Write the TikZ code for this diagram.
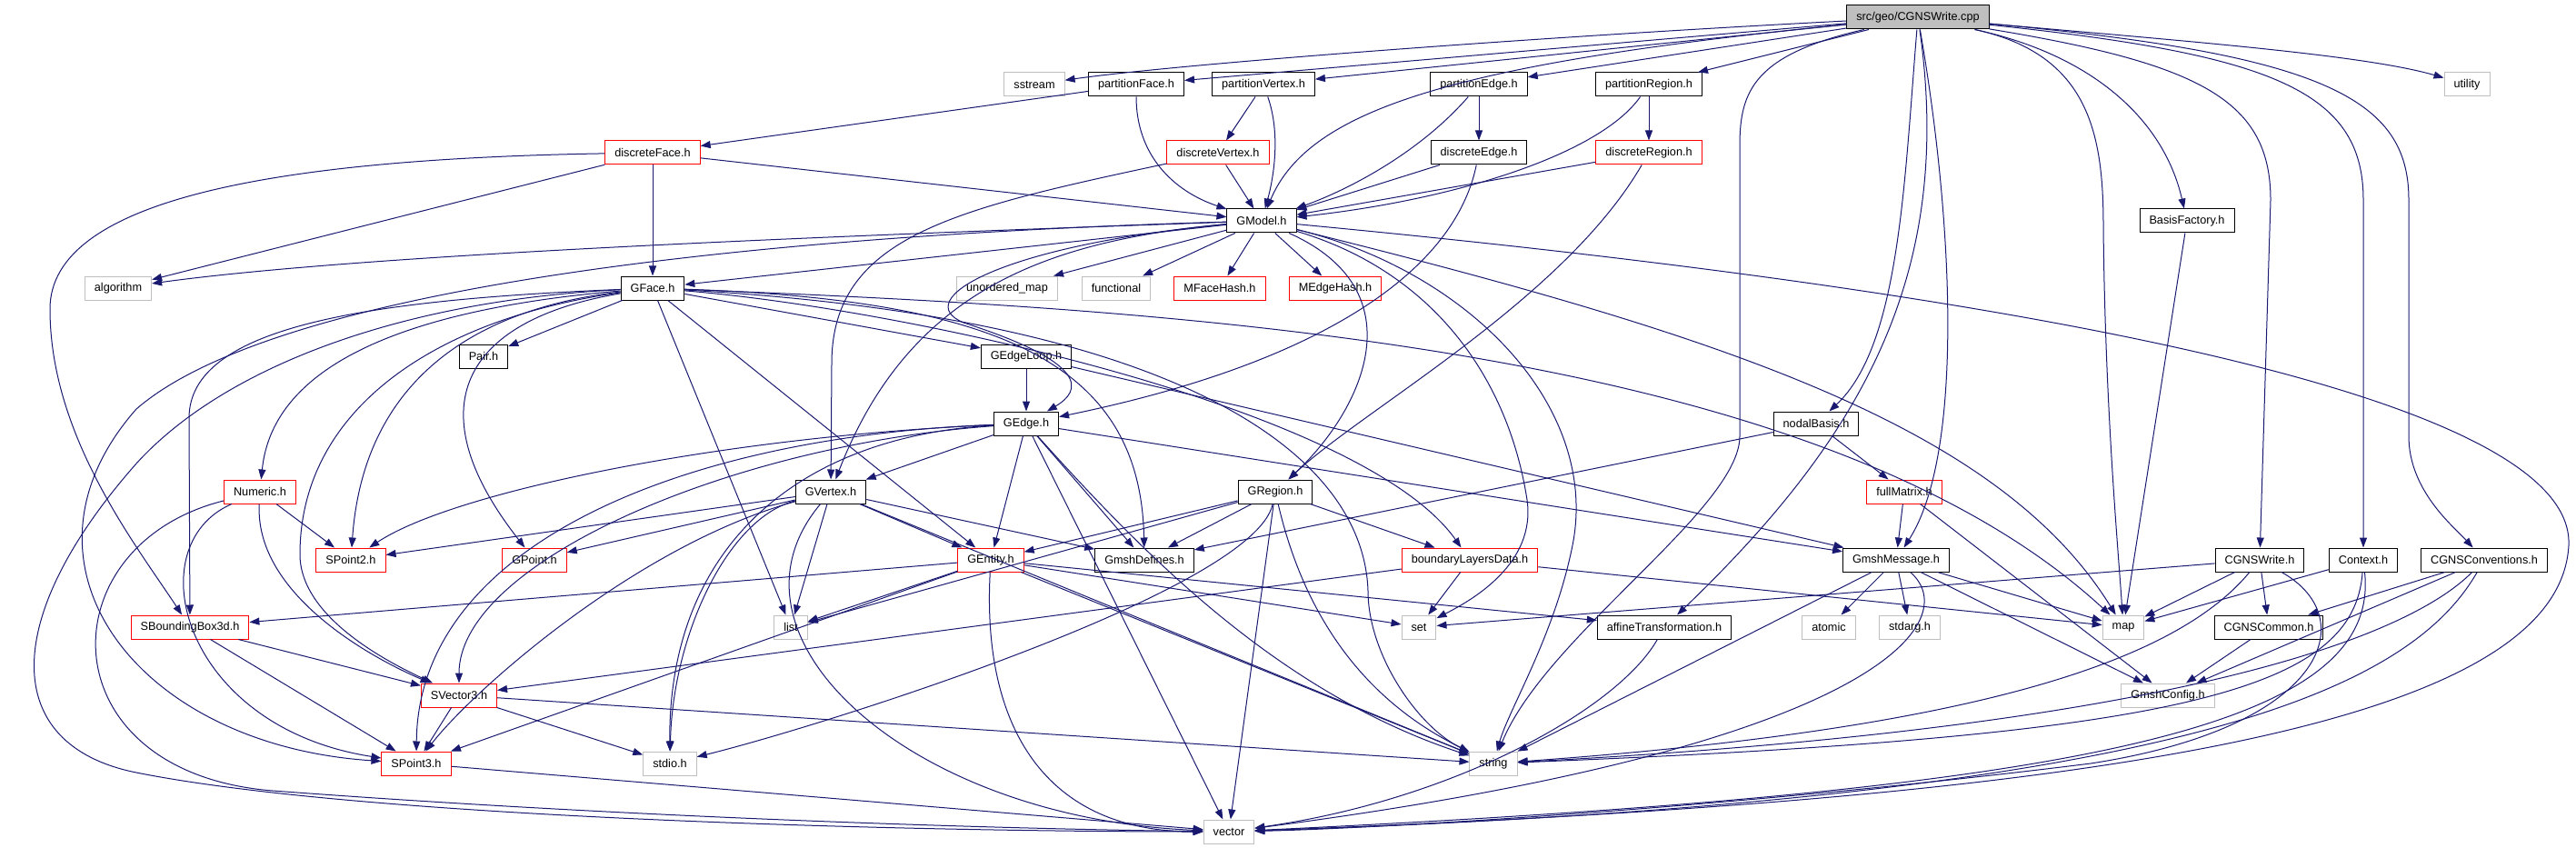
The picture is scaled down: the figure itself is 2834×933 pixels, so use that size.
\documentclass[tikz,border=0pt]{standalone}
\usepackage{fontspec}
\setmainfont{Liberation Sans}
\usepackage{xcolor}
\usepackage{tikz}
\usetikzlibrary{shapes, arrows.meta}
\definecolor{edgeblue}{HTML}{191970}
\definecolor{sysgrey}{HTML}{BFBFBF}
\newcommand{\filefont}{\fontsize{12.7}{15}\selectfont}
\tikzstyle{file} = [draw=black, rectangle, line width=1pt, minimum height=26pt, inner xsep=10.5pt, inner ysep=0pt, font=\filefont]
\tikzstyle{trunc} = [file, draw=red]
\tikzstyle{sys} = [file, draw=sysgrey]
\tikzstyle{root} = [file, fill=sysgrey]
\tikzstyle{dep} = [->, draw=edgeblue, line width=1pt]

\begin{document}
\begin{tikzpicture}[x=1pt, y=-1pt, >={Triangle[length=11pt,width=8pt]}]
    \useasboundingbox (0,0) rectangle (2834,933);

    % ligne 0-1
    \node [root] (root) at (2110,19) {src/geo/CGNSWrite.cpp};
    \node [sys] (sstream) at (1138,93) {sstream};
    \node [file] (pFace) at (1250,93) {partitionFace.h};
    \node [file] (pVertex) at (1390,93) {partitionVertex.h};
    \node [file] (pEdge) at (1627,93) {partitionEdge.h};
    \node [file] (pRegion) at (1814,93) {partitionRegion.h};
    \node [sys] (utility) at (2714,93) {utility};

    % ligne 2-3
    \node [trunc] (dFace) at (718,168) {discreteFace.h};
    \node [trunc] (dVertex) at (1340,168) {discreteVertex.h};
    \node [file] (dEdge) at (1627,168) {discreteEdge.h};
    \node [trunc] (dRegion) at (1814,168) {discreteRegion.h};
    \node [file] (GModel) at (1388,243) {GModel.h};
    \node [file] (BasisFactory) at (2406,243) {BasisFactory.h};

    % ligne 4-6
    \node [sys] (algorithm) at (130,317) {algorithm};
    \node [file] (GFace) at (718,317) {GFace.h};
    \node [sys] (umap) at (1108,317) {unordered\_map};
    \node [sys] (functional) at (1228,317) {functional};
    \node [trunc] (MFaceHash) at (1342,317) {MFaceHash.h};
    \node [trunc] (MEdgeHash) at (1469,317) {MEdgeHash.h};
    \node [file] (Pair) at (532,392) {Pair.h};
    \node [file] (GEdgeLoop) at (1129,392) {GEdgeLoop.h};
    \node [file] (GEdge) at (1129,466) {GEdge.h};
    \node [file] (nodalBasis) at (1998,466) {nodalBasis.h};

    % ligne 7-8
    \node [trunc] (Numeric) at (286,541) {Numeric.h};
    \node [file] (GVertex) at (914,541) {GVertex.h};
    \node [file] (GRegion) at (1403,541) {GRegion.h};
    \node [trunc] (fullMatrix) at (2095,541) {fullMatrix.h};
    \node [trunc] (SPoint2) at (386,616) {SPoint2.h};
    \node [trunc] (GPoint) at (588,616) {GPoint.h};
    \node [trunc] (GEntity) at (1090,616) {GEntity.h};
    \node [file] (GmshDefines) at (1259,616) {GmshDefines.h};
    \node [trunc] (bLayers) at (1617,616) {boundaryLayersData.h};
    \node [file] (GmshMessage) at (2086,616) {GmshMessage.h};
    \node [file] (CGNSWriteh) at (2486,616) {CGNSWrite.h};
    \node [file] (Context) at (2600,616) {Context.h};
    \node [file] (CGNSConv) at (2733,616) {CGNSConventions.h};

    % ligne 9-12
    \node [trunc] (SBBox) at (209,690) {SBoundingBox3d.h};
    \node [sys] (list) at (870,690) {list};
    \node [sys] (set) at (1561,690) {set};
    \node [file] (affine) at (1831,690) {affineTransformation.h};
    \node [sys] (atomic) at (2012,690) {atomic};
    \node [sys] (stdarg) at (2101,690) {stdarg.h};
    \node [sys] (map) at (2336,690) {map};
    \node [file] (CGNSCommon) at (2496,690) {CGNSCommon.h};
    \node [trunc] (SVector3) at (505,765) {SVector3.h};
    \node [sys] (GmshConfig) at (2385,765) {GmshConfig.h};
    \node [trunc] (SPoint3) at (458,840) {SPoint3.h};
    \node [sys] (stdio) at (737,840) {stdio.h};
    \node [sys] (string) at (1643,840) {string};
    \node [sys] (vector) at (1352,915) {vector};

    % CGNSWrite.cpp
    \draw [dep] (root) .. controls (1700,40) and (1300,70) .. (sstream);
    \draw [dep] (root) -- (pFace);
    \draw [dep] (root) -- (pVertex);
    \draw [dep] (root) .. controls (1600,70) and (1440,120) .. (GModel);
    \draw [dep] (root) -- (pEdge);
    \draw [dep] (root) -- (pRegion);
    \draw [dep] (root) .. controls (1930,60) and (1914,100) .. (1914,160) -- (1914,480) .. controls (1914,560) and (1700,700) .. (string);
    \draw [dep] (root) .. controls (2095,200) and (2090,380) .. (nodalBasis);
    \draw [dep] (root) .. controls (2150,300) and (2050,480) .. (affine);
    \draw [dep] (root) .. controls (2150,250) and (2160,500) .. (GmshMessage);
    \draw [dep] (root) .. controls (2300,60) and (2314,150) .. (2314,250) .. controls (2316,450) and (2330,600) .. (map);
    \draw [dep] (root) .. controls (2300,60) and (2380,130) .. (BasisFactory);
    \draw [dep] (root) .. controls (2420,70) and (2498,110) .. (2498,220) -- (CGNSWriteh);
    \draw [dep] (root) .. controls (2500,60) and (2600,100) .. (2600,220) -- (Context);
    \draw [dep] (root) .. controls (2560,60) and (2650,110) .. (2650,220) -- (2650,480) .. controls (2650,540) and (2700,580) .. (CGNSConv);
    \draw [dep] (root) .. controls (2400,45) and (2600,60) .. (utility);

    % partition*, discrete*
    \draw [dep] (pFace) -- (dFace);
    \draw [dep] (pFace) .. controls (1250,170) and (1290,210) .. (GModel);
    \draw [dep] (pVertex) -- (dVertex);
    \draw [dep] (pVertex) .. controls (1410,150) and (1400,200) .. (GModel);
    \draw [dep] (pEdge) -- (dEdge);
    \draw [dep] (pEdge) .. controls (1560,170) and (1480,210) .. (GModel);
    \draw [dep] (pRegion) -- (dRegion);
    \draw [dep] (pRegion) .. controls (1760,170) and (1600,220) .. (GModel);
    \draw [dep] (dFace) -- (GModel);
    \draw [dep] (dFace) -- (GFace);
    \draw [dep] (dFace) -- (algorithm);
    \draw [dep] (dFace) .. controls (300,175) and (55,220) .. (55,340) .. controls (55,480) and (150,600) .. (SBBox);
    \draw [dep] (dVertex) -- (GModel);
    \draw [dep] (dVertex) .. controls (1050,230) and (915,260) .. (915,400) -- (GVertex);
    \draw [dep] (dEdge) -- (GModel);
    \draw [dep] (dEdge) .. controls (1600,300) and (1450,400) .. (GEdge);
    \draw [dep] (dRegion) -- (GModel);
    \draw [dep] (dRegion) .. controls (1720,330) and (1500,450) .. (GRegion);

    % GModel.h
    \draw [dep] (GModel) .. controls (900,260) and (400,280) .. (algorithm);
    \draw [dep] (GModel) -- (GFace);
    \draw [dep] (GModel) -- (umap);
    \draw [dep] (GModel) -- (functional);
    \draw [dep] (GModel) -- (MFaceHash);
    \draw [dep] (GModel) -- (MEdgeHash);
    \draw [dep] (GModel) .. controls (1150,265) and (1000,320) .. (GVertex);
    \draw [dep] (GModel) .. controls (1100,270) and (1000,330) .. (1060,355) .. controls (1200,400) and (1190,430) .. (GEdge);
    \draw [dep] (GModel) .. controls (1560,320) and (1500,450) .. (GRegion);
    \draw [dep] (GModel) .. controls (800,260) and (300,320) .. (150,450) .. controls (0,620) and (150,820) .. (SPoint3);
    \draw [dep] (GModel) .. controls (1900,370) and (2200,470) .. (map);
    \draw [dep] (GModel) .. controls (1580,300) and (1660,420) .. (1680,550) .. controls (1690,620) and (1620,660) .. (set);
    \draw [dep] (GModel) .. controls (1620,300) and (1760,450) .. (1730,600) .. controls (1710,700) and (1660,780) .. (string);
    \draw [dep] (GModel) .. controls (2100,310) and (2834,420) .. (2826,600) .. controls (2815,800) and (2300,880) .. (vector);

    % GFace.h
    \draw [dep] (GFace) -- (Pair);
    \draw [dep] (GFace) -- (GEdgeLoop);
    \draw [dep] (GFace) -- (GEntity);
    \draw [dep] (GFace) -- (list);
    \draw [dep] (GFace) .. controls (450,340) and (300,400) .. (Numeric);
    \draw [dep] (GFace) .. controls (400,330) and (208,360) .. (208,460) -- (SBBox);
    \draw [dep] (GFace) .. controls (450,330) and (250,400) .. (150,510) .. controls (0,680) and (0,820) .. (150,850) .. controls (400,900) and (1000,915) .. (vector);
    \draw [dep] (GFace) .. controls (480,350) and (330,450) .. (330,610) .. controls (330,680) and (430,730) .. (SVector3);
    \draw [dep] (GFace) .. controls (520,340) and (400,420) .. (SPoint2);
    \draw [dep] (GFace) .. controls (520,350) and (450,440) .. (GPoint);
    \draw [dep] (GFace) .. controls (1100,330) and (1255,400) .. (GmshDefines);
    \draw [dep] (GFace) .. controls (1000,340) and (1500,450) .. (bLayers);
    \draw [dep] (GFace) .. controls (1300,340) and (2000,380) .. (map);
    \draw [dep] (GFace) .. controls (1300,350) and (1500,500) .. (1505,650) .. controls (1505,720) and (1560,800) .. (string);

    % GEdgeLoop.h, GEdge.h
    \draw [dep] (GEdgeLoop) -- (GEdge);
    \draw [dep] (GEdgeLoop) -- (GmshMessage);
    \draw [dep] (GEdge) -- (GVertex);
    \draw [dep] (GEdge) -- (GEntity);
    \draw [dep] (GEdge) -- (GmshDefines);
    \draw [dep] (GEdge) -- (vector);
    \draw [dep] (GEdge) .. controls (1250,600) and (1400,760) .. (string);
    \draw [dep] (GEdge) .. controls (800,480) and (500,540) .. (SPoint2);
    \draw [dep] (GEdge) .. controls (750,480) and (460,600) .. (SPoint3);
    \draw [dep] (GEdge) .. controls (800,490) and (505,620) .. (SVector3);
    \draw [dep] (GEdge) .. controls (880,480) and (735,600) .. (stdio);
    \draw [dep] (GEdge) -- (GmshMessage);

    % GVertex.h
    \draw [dep] (GVertex) -- (GEntity);
    \draw [dep] (GVertex) -- (GmshDefines);
    \draw [dep] (GVertex) -- (list);
    \draw [dep] (GVertex) .. controls (800,570) and (740,700) .. (stdio);
    \draw [dep] (GVertex) -- (string);
    \draw [dep] (GVertex) .. controls (780,700) and (1000,900) .. (vector);
    \draw [dep] (GVertex) -- (SPoint2);
    \draw [dep] (GVertex) -- (GPoint);
    \draw [dep] (GVertex) .. controls (700,600) and (520,760) .. (SPoint3);

    % GRegion.h
    \draw [dep] (GRegion) -- (GEntity);
    \draw [dep] (GRegion) -- (GmshDefines);
    \draw [dep] (GRegion) -- (bLayers);
    \draw [dep] (GRegion) -- (list);
    \draw [dep] (GRegion) -- (vector);
    \draw [dep] (GRegion) .. controls (1440,700) and (1520,780) .. (string);
    \draw [dep] (GRegion) .. controls (1380,650) and (900,800) .. (stdio);

    % GEntity.h
    \draw [dep] (GEntity) -- (list);
    \draw [dep] (GEntity) -- (SBBox);
    \draw [dep] (GEntity) -- (SPoint3);
    \draw [dep] (GEntity) .. controls (1080,800) and (1150,915) .. (vector);
    \draw [dep] (GEntity) -- (string);
    \draw [dep] (GEntity) -- (set);
    \draw [dep] (GEntity) -- (affine);

    % Numeric.h, SBoundingBox3d.h, SVector3.h, SPoint3.h
    \draw [dep] (Numeric) -- (SPoint2);
    \draw [dep] (Numeric) .. controls (280,650) and (400,720) .. (SVector3);
    \draw [dep] (Numeric) .. controls (150,600) and (200,800) .. (SPoint3);
    \draw [dep] (Numeric) .. controls (50,600) and (50,850) .. (300,870) .. controls (700,900) and (1100,912) .. (vector);
    \draw [dep] (SBBox) -- (SVector3);
    \draw [dep] (SBBox) -- (SPoint3);
    \draw [dep] (SVector3) -- (SPoint3);
    \draw [dep] (SVector3) -- (stdio);
    \draw [dep] (SVector3) -- (string);
    \draw [dep] (SPoint3) -- (vector);

    % boundaryLayersData.h, nodalBasis.h, fullMatrix.h
    \draw [dep] (bLayers) -- (set);
    \draw [dep] (bLayers) -- (SVector3);
    \draw [dep] (bLayers) -- (map);
    \draw [dep] (nodalBasis) -- (fullMatrix);
    \draw [dep] (nodalBasis) -- (GmshDefines);
    \draw [dep] (fullMatrix) -- (GmshMessage);
    \draw [dep] (fullMatrix) -- (GmshConfig);

    % GmshMessage.h
    \draw [dep] (GmshMessage) -- (map);
    \draw [dep] (GmshMessage) -- (atomic);
    \draw [dep] (GmshMessage) -- (stdarg);
    \draw [dep] (GmshMessage) -- (GmshConfig);
    \draw [dep] (GmshMessage) -- (string);
    \draw [dep] (GmshMessage) .. controls (2160,680) and (2080,820) .. (vector);
    \draw [dep] (affine) .. controls (1780,780) and (1600,880) .. (vector);

    % BasisFactory.h, CGNSWrite.h, Context.h, CGNSConventions.h, CGNSCommon.h
    \draw [dep] (BasisFactory) -- (map);
    \draw [dep] (CGNSWriteh) -- (map);
    \draw [dep] (CGNSWriteh) -- (CGNSCommon);
    \draw [dep] (CGNSWriteh) -- (set);
    \draw [dep] (CGNSWriteh) .. controls (2400,720) and (2200,800) .. (string);
    \draw [dep] (CGNSWriteh) .. controls (2600,680) and (2560,800) .. (2300,840) .. controls (1900,890) and (1500,912) .. (vector);
    \draw [dep] (Context) -- (map);
    \draw [dep] (Context) .. controls (2590,760) and (2400,810) .. (string);
    \draw [dep] (Context) .. controls (2620,800) and (2300,870) .. (vector);
    \draw [dep] (CGNSConv) -- (CGNSCommon);
    \draw [dep] (CGNSConv) -- (GmshConfig);
    \draw [dep] (CGNSConv) .. controls (2650,700) and (2400,800) .. (string);
    \draw [dep] (CGNSConv) .. controls (2650,760) and (2400,880) .. (vector);
    \draw [dep] (CGNSCommon) -- (GmshConfig);
\end{tikzpicture}
\end{document}
